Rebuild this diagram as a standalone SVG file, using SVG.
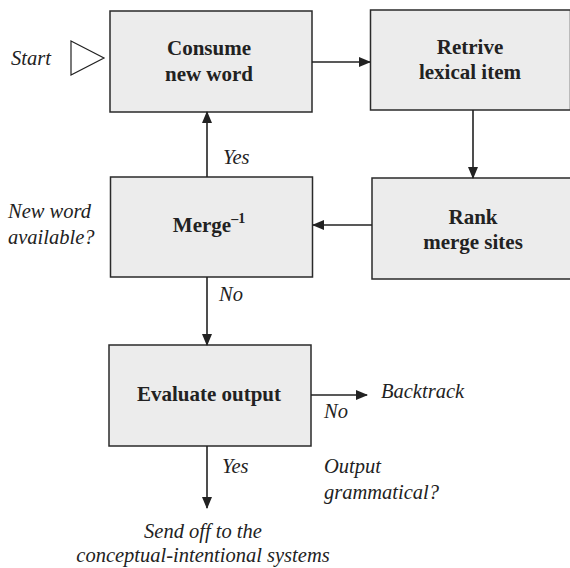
<svg xmlns="http://www.w3.org/2000/svg" width="570" height="568" viewBox="0 0 570 568">
<style>
.box{fill:#ececec;stroke:#2a2a2a;stroke-width:1.5}
.t{font-family:"Liberation Serif",serif;font-weight:bold;font-size:21px;fill:#222;text-anchor:middle}
.i{font-family:"Liberation Serif",serif;font-style:italic;font-size:20.5px;fill:#222}
.c{stroke:#222;stroke-width:1.6;fill:none;marker-end:url(#a)}
</style>
<defs>
<marker id="a" markerWidth="12" markerHeight="10" refX="11" refY="5" orient="auto" markerUnits="userSpaceOnUse">
<path d="M0,0 L12,5 L0,10 Z" fill="#222"/>
</marker>
</defs>
<rect width="570" height="568" fill="#fff"/>
<g id="start">
<polygon points="71,41 104,58 71,75" fill="#fff" stroke="#222" stroke-width="1.2"/>
<text class="i" x="11" y="65">Start</text>
</g>
<g id="consume">
<rect class="box" x="110" y="11" width="202" height="101"/>
<text class="t" x="209" y="55">Consume</text>
<text class="t" x="209" y="81">new word</text>
</g>
<g id="retrive">
<rect class="box" x="370.5" y="10" width="200" height="100"/>
<text class="t" x="470" y="54">Retrive</text>
<text class="t" x="470" y="79">lexical item</text>
</g>
<g id="rank">
<rect class="box" x="372" y="178" width="200" height="101"/>
<text class="t" x="473" y="224">Rank</text>
<text class="t" x="473" y="249">merge sites</text>
</g>
<g id="merge">
<rect class="box" x="110.5" y="177" width="202" height="100"/>
<text class="t" x="209" y="232">Merge<tspan font-size="14" dy="-9">–1</tspan></text>
</g>
<g id="evaluate">
<rect class="box" x="109" y="345" width="202" height="101"/>
<text class="t" x="209" y="401">Evaluate output</text>
</g>
<g id="labels">
<text class="i" x="8" y="218">New word</text>
<text class="i" x="8" y="244">available?</text>
<text class="i" x="223" y="164">Yes</text>
<text class="i" x="219" y="301">No</text>
<text class="i" x="381" y="398">Backtrack</text>
<text class="i" x="324" y="418">No</text>
<text class="i" x="222" y="473">Yes</text>
<text class="i" x="324" y="473">Output</text>
<text class="i" x="324" y="499">grammatical?</text>
<text class="i" x="203" y="538" text-anchor="middle">Send off to the</text>
<text class="i" x="203" y="562" text-anchor="middle">conceptual-intentional systems</text>
</g>
<g id="connectors">
<line class="c" x1="312" y1="62" x2="370" y2="62"/>
<line class="c" x1="473" y1="110" x2="473" y2="178"/>
<line class="c" x1="372" y1="225" x2="313" y2="225"/>
<line class="c" x1="207" y1="177" x2="207" y2="112"/>
<line class="c" x1="207" y1="277" x2="207" y2="345"/>
<line class="c" x1="311" y1="395" x2="367" y2="395"/>
<line class="c" x1="207" y1="446" x2="207" y2="508"/>
</g>
</svg>
